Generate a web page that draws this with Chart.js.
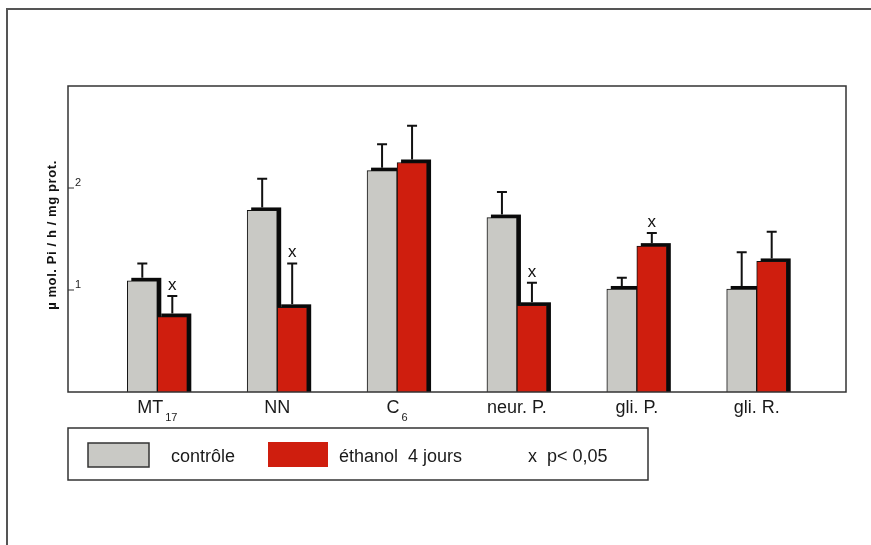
<!DOCTYPE html>
<html><head><meta charset="utf-8">
<script src="https://cdn.jsdelivr.net/npm/chart.js@4.4.0/dist/chart.umd.min.js"></script>
<style>html,body{margin:0;padding:0;background:#fff}#wrap{width:871px;height:545px}</style>
</head><body><div id="wrap"><canvas id="c" width="871" height="545"></canvas></div>
<script>
const categories = ['MT', 'NN', 'C', 'neur. P.', 'gli. P.', 'gli. R.'];
const subscripts = ['17', '', '6', '', '', ''];
const controle = [1.09, 1.78, 2.17, 1.71, 1.01, 1.01];
const controleErr = [1.26, 2.09, 2.43, 1.96, 1.12, 1.37];
const ethanol = [0.74, 0.83, 2.25, 0.85, 1.43, 1.28];
const ethanolErr = [0.94, 1.26, 2.61, 1.07, 1.56, 1.57];
const significant = [true, true, false, true, true, false];
const yTicks = [1, 2];
const seriesLabels = ['contrôle', 'éthanol  4 jours'];
const sigLabel = 'x  p< 0,05';
const yTitle = 'µ mol. Pi / h / mg prot.';

const FONT = '"Liberation Sans", Arial, Helvetica, sans-serif';
const GRAY = '#c9c9c5';
const RED = '#cf1e0e';

const errs = [controleErr, ethanolErr];

const decor = {
  id: 'decor',
  beforeDraw(chart) {
    const ctx = chart.ctx;
    ctx.save();
    ctx.fillStyle = '#fff';
    ctx.fillRect(0, 0, chart.width, chart.height);
    ctx.strokeStyle = '#555';
    ctx.lineWidth = 2;
    ctx.beginPath();
    ctx.moveTo(7, chart.height);
    ctx.lineTo(7, 9);
    ctx.lineTo(chart.width, 9);
    ctx.stroke();
    ctx.restore();
  },
  beforeDatasetsDraw(chart) {
    const ctx = chart.ctx;
    ctx.save();
    ctx.fillStyle = '#0a0a0a';
    chart.data.datasets.forEach((ds, d) => {
      chart.getDatasetMeta(d).data.forEach(el => {
        const w = el.width;
        ctx.fillRect(el.x - w / 2 + 4, el.y - 3, w, el.base - el.y + 3);
      });
    });
    ctx.restore();
  },
  afterDatasetsDraw(chart) {
    const ctx = chart.ctx;
    const xs = chart.scales.x, ys = chart.scales.y;
    const ca = chart.chartArea;
    ctx.save();
    // error bars
    ctx.strokeStyle = '#111';
    ctx.lineWidth = 2;
    chart.data.datasets.forEach((ds, d) => {
      chart.getDatasetMeta(d).data.forEach((el, i) => {
        const top = ys.getPixelForValue(errs[d][i]);
        ctx.beginPath();
        ctx.moveTo(el.x, el.y - 3);
        ctx.lineTo(el.x, top);
        ctx.moveTo(el.x - 5, top);
        ctx.lineTo(el.x + 5, top);
        ctx.stroke();
        if (d === 1 && significant[i]) {
          ctx.fillStyle = '#111';
          ctx.font = '17px ' + FONT;
          ctx.textAlign = 'center';
          ctx.textBaseline = 'alphabetic';
          ctx.fillText('x', el.x, top - 6);
        }
      });
    });
    // plot frame
    ctx.strokeStyle = '#333';
    ctx.lineWidth = 1.5;
    ctx.strokeRect(ca.left, ca.top, ca.right - ca.left, ca.bottom - ca.top);
    // y ticks
    ctx.fillStyle = '#222';
    ctx.font = '11px ' + FONT;
    ctx.textAlign = 'left';
    ctx.textBaseline = 'alphabetic';
    yTicks.forEach(v => {
      const y = ys.getPixelForValue(v);
      ctx.beginPath();
      ctx.moveTo(ca.left, y);
      ctx.lineTo(ca.left + 6, y);
      ctx.lineWidth = 1;
      ctx.stroke();
      ctx.fillText(String(v), ca.left + 7, y - 2);
    });
    // y title
    ctx.save();
    ctx.translate(52, (ca.top + ca.bottom) / 2 - 4);
    ctx.rotate(-Math.PI / 2);
    ctx.font = 'bold 13px ' + FONT;
    try { ctx.letterSpacing = '0.6px'; } catch (e) {}
    ctx.textAlign = 'center';
    ctx.textBaseline = 'middle';
    ctx.fillStyle = '#111';
    ctx.fillText(yTitle, 0, 0);
    ctx.restore();
    // category labels
    ctx.fillStyle = '#1a1a1a';
    ctx.textBaseline = 'alphabetic';
    ctx.textAlign = 'left';
    categories.forEach((c, i) => {
      const cx = xs.getPixelForValue(i);
      ctx.font = '18px ' + FONT;
      const wMain = ctx.measureText(c).width;
      ctx.font = '11px ' + FONT;
      const wSub = subscripts[i] ? ctx.measureText(subscripts[i]).width + 2 : 0;
      const x0 = cx - (wMain + wSub) / 2;
      ctx.font = '18px ' + FONT;
      ctx.fillText(c, x0, ca.bottom + 21);
      if (subscripts[i]) {
        ctx.font = '11px ' + FONT;
        ctx.fillText(subscripts[i], x0 + wMain + 2, ca.bottom + 29);
      }
    });
    // legend
    ctx.strokeStyle = '#333';
    ctx.lineWidth = 1.5;
    ctx.strokeRect(68, 428, 580, 52);
    const dsets = chart.data.datasets;
    ctx.fillStyle = dsets[0].backgroundColor;
    ctx.fillRect(88, 443, 61, 24);
    ctx.strokeRect(88, 443, 61, 24);
    ctx.fillStyle = dsets[1].backgroundColor;
    ctx.fillRect(268, 442, 60, 25);
    ctx.fillStyle = '#1a1a1a';
    ctx.font = '18px ' + FONT;
    ctx.textAlign = 'left';
    ctx.fillText(dsets[0].label, 171, 462);
    ctx.fillText(dsets[1].label, 339, 462);
    ctx.fillText(sigLabel, 528, 462);
    ctx.restore();
  }
};

new Chart(document.getElementById('c'), {
  type: 'bar',
  data: {
    datasets: [
      { label: seriesLabels[0], data: controle.map((v, i) => ({ x: i, y: v })),
        backgroundColor: GRAY, borderColor: '#111', borderWidth: 1,
        barThickness: 30 },
      { label: seriesLabels[1], data: ethanol.map((v, i) => ({ x: i, y: v })),
        backgroundColor: RED, borderColor: '#111', borderWidth: 1,
        barThickness: 30 }
    ]
  },
  options: {
    responsive: false,
    animation: false,
    devicePixelRatio: 1,
    layout: { padding: { left: 68, top: 86, right: 25, bottom: 153 } },
    plugins: { legend: { display: false }, tooltip: { enabled: false } },
    scales: {
      x: { type: 'linear', min: -0.745, max: 5.745, offset: false, display: false },
      y: { min: 0, max: 3, display: false }
    }
  },
  plugins: [decor]
});
</script>
</body></html>
